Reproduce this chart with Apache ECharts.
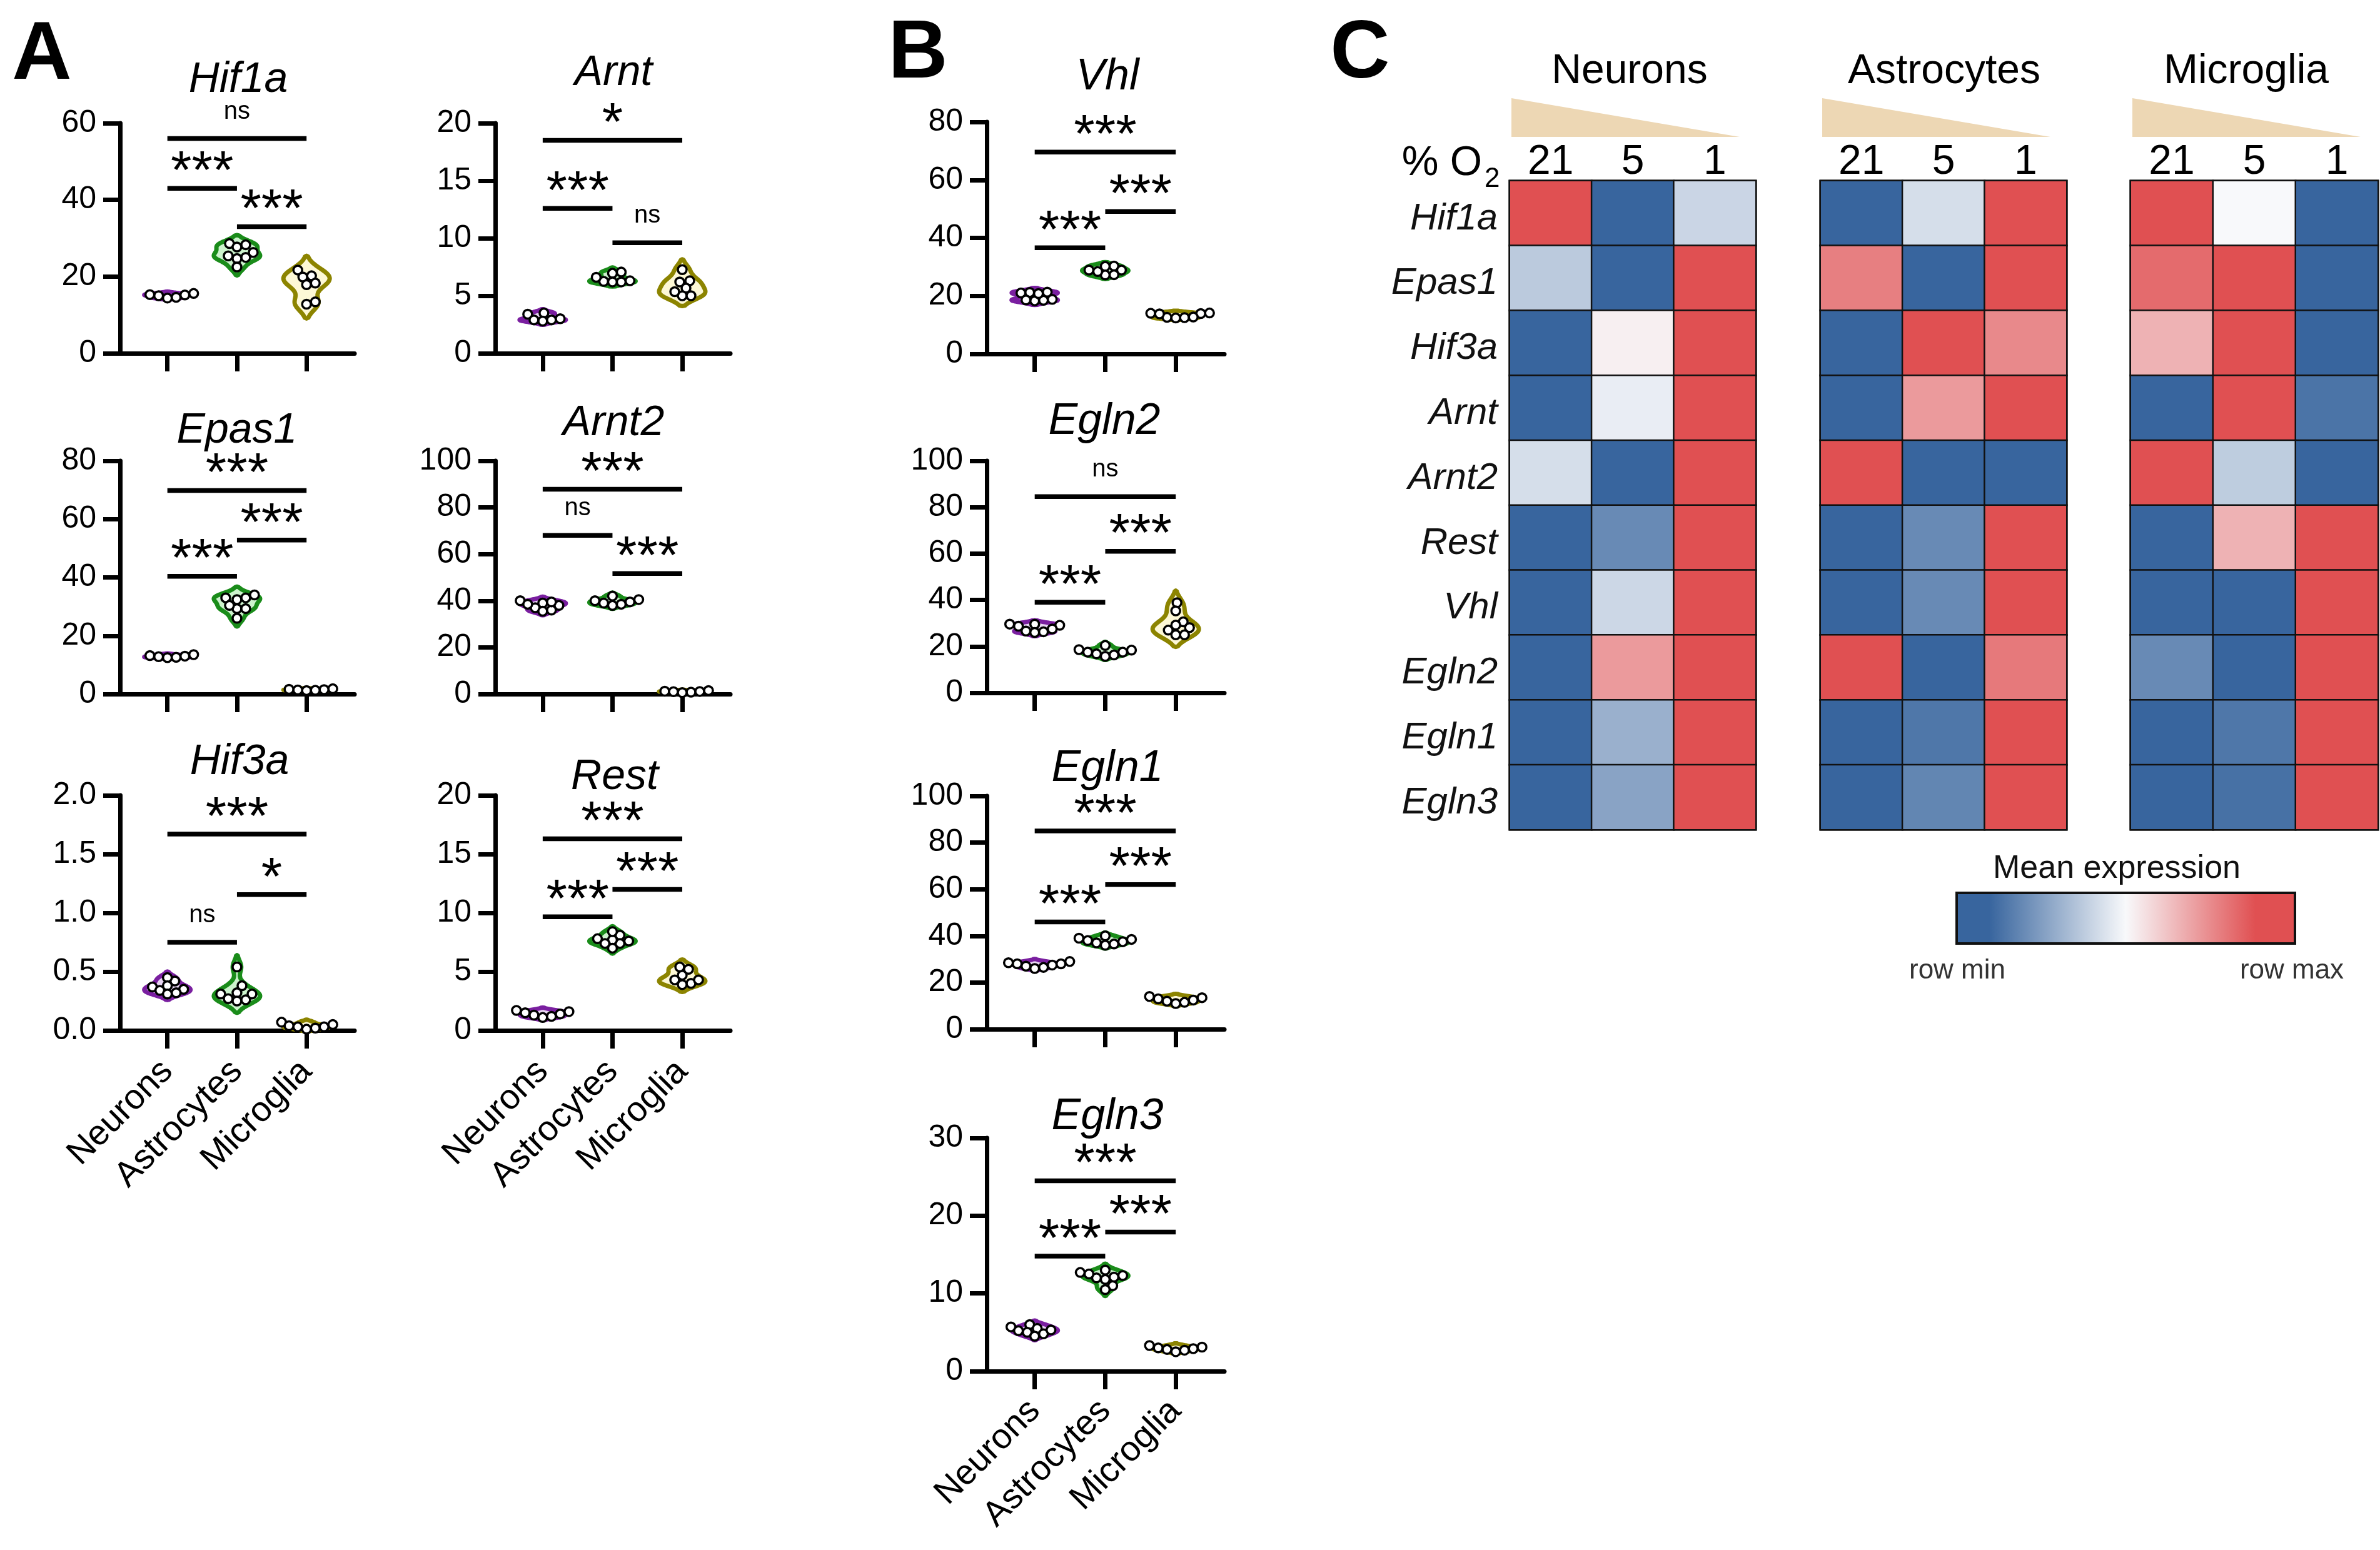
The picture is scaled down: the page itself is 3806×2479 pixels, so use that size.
<!DOCTYPE html>
<html><head><meta charset="utf-8">
<script src="https://cdn.jsdelivr.net/npm/echarts@6/dist/echarts.min.js"></script>
<style>html,body{margin:0;padding:0;background:#fff}#c{width:3806px;height:2479px}</style>
</head><body><div id="c"></div>
<script>
// ---------- DATA ----------
const cellTypes = ['Neurons', 'Astrocytes', 'Microglia'];

const hif1aN = [15.6, 15.2, 14.6, 15.0, 14.4, 15.3];
const hif1aA = [28.3, 28.6, 27.7, 26.3, 25.0, 25.4, 24.7, 22.5];
const hif1aM = [21.7, 19.9, 20.2, 17.9, 18.3, 12.8, 13.4];
const hif1aSig = [[1, 2, 43, '***'], [2, 3, 33, '***'], [1, 3, 56, 'ns']];

const arntN = [3.5, 3.4, 2.8, 2.9, 2.9, 3.0];
const arntA = [6.95, 7.06, 6.25, 6.3, 6.2, 6.2, 6.6];
const arntM = [7.27, 6.2, 6.3, 5.67, 5.0, 5.0, 5.35];
const arntSig = [[1, 2, 12.6, '***'], [2, 3, 9.6, 'ns'], [1, 3, 18.5, '*']];

const epas1N = [13.5, 12.5, 13.0, 12.8, 13.2, 12.6];
const epas1A = [33, 33, 34, 32.4, 29.3, 30.4, 29.3, 26];
const epas1M = [1.8, 1.5, 1.2, 1.6, 1.3, 1.4];
const epas1Sig = [[1, 2, 40.4, '***'], [2, 3, 52.8, '***'], [1, 3, 69.8, '***']];

const arnt2N = [40, 39, 38, 37, 36, 39.5, 38.5, 35.5];
const arnt2A = [42, 40.5, 40, 38, 38.5, 39, 39.5];
const arnt2M = [1.2, 0.8, 1.0, 1.5, 0.6, 1.1];
const arnt2Sig = [[1, 2, 68, 'ns'], [2, 3, 51.7, '***'], [1, 3, 87.8, '***']];

const hif3aN = [0.42, 0.45, 0.38, 0.37, 0.35, 0.32, 0.34, 0.31];
const hif3aA = [0.54, 0.38, 0.32, 0.31, 0.31, 0.26, 0.27, 0.25];
const hif3aM = [0.07, 0.05, 0.03, 0.02, 0.04, 0.03, 0.01];
const hif3aSig = [[1, 2, 0.75, 'ns'], [2, 3, 1.155, '*'], [1, 3, 1.67, '***']];

const restN = [1.7, 1.5, 1.3, 1.1, 1.2, 1.4, 1.6];
const restA = [8.1, 7.8, 7.4, 7.7, 7.0, 8.4, 7.6, 7.4];
const restM = [4.7, 4.3, 5.2, 5.4, 4.0, 4.3, 3.9];
const restSig = [[1, 2, 9.67, '***'], [2, 3, 12.0, '***'], [1, 3, 16.3, '***']];

const vhlN = [21.2, 18.5, 21.0, 18.8, 21.3, 18.3, 20.8, 18.6];
const vhlA = [30.3, 28.9, 27.3, 28.9, 30.2, 27.2, 28.4];
const vhlM = [14.0, 12.5, 14.1, 12.6, 13.8, 12.4, 13.9, 12.7];
const vhlSig = [[1, 2, 36.6, '***'], [2, 3, 49.1, '***'], [1, 3, 69.6, '***']];

const egln2N = [26.6, 29.6, 28.7, 29.6, 26.0, 29.1, 26.3, 27.5];
const egln2A = [16.8, 18.6, 17.5, 18.4, 20.4, 15.7, 17.5, 16.3];
const egln2M = [38.8, 35.3, 30.6, 29.2, 28.1, 25, 25, 27];
const egln2Sig = [[1, 2, 39, '***'], [2, 3, 61, '***'], [1, 3, 84.6, 'ns']];

const egln1N = [29, 28, 27, 26.5, 28.5, 27.5, 26, 28];
const egln1A = [40, 38, 37, 36, 39, 37.5, 36.5, 38.5];
const egln1M = [14, 13, 12, 11.5, 12.5, 11, 13.5];
const egln1Sig = [[1, 2, 46, '***'], [2, 3, 62, '***'], [1, 3, 85, '***']];

const egln3N = [6, 5.5, 5, 4.8, 5.3, 5.7, 4.5, 5.2];
const egln3A = [13, 12.7, 12.3, 12, 11.8, 12.5, 11, 10.5, 12.1];
const egln3M = [3.3, 3, 2.8, 2.7, 2.5, 3.1, 2.9];
const egln3Sig = [[1, 2, 14.8, '***'], [2, 3, 17.9, '***'], [1, 3, 24.5, '***']];

const plotGenes = ['Hif1a', 'Arnt', 'Epas1', 'Arnt2', 'Hif3a', 'Rest', 'Vhl', 'Egln2', 'Egln1', 'Egln3'];
const yMaxes    = [60, 20, 80, 100, 2.0, 20, 80, 100, 100, 30];
const yIntervals = [20, 5, 20, 20, 0.5, 5, 20, 20, 20, 10];

const heatGenes = ['Hif1a', 'Epas1', 'Hif3a', 'Arnt', 'Arnt2', 'Rest', 'Vhl', 'Egln2', 'Egln1', 'Egln3'];
const o2Levels = ['21', '5', '1'];
const heatNeurons = [[1, 0, 0.38], [0.34, 0, 1], [0, 0.53, 1], [0, 0.46, 1], [0.41, 0, 1], [0, 0.125, 1], [0, 0.385, 1], [0, 0.78, 1], [0, 0.255, 1], [0, 0.21, 1]];
const heatAstro   = [[0, 0.41, 1], [0.86, 0, 1], [0, 1, 0.83], [0, 0.78, 1], [1, 0, 0], [0, 0.125, 1], [0, 0.125, 1], [1, 0, 0.88], [0, 0.06, 1], [0, 0.11, 1]];
const heatMicro   = [[1, 0.5, 0], [0.92, 1, 0], [0.71, 1, 0], [0, 1, 0.05], [1, 0.35, 0], [0, 0.71, 1], [0, 0, 1], [0.125, 0, 1], [0, 0.06, 1], [0, 0.04, 1]];

// ---------- STYLE / LAYOUT ----------
const ARIAL = "'Liberation Sans', Arial, Helvetica, sans-serif";
const groupStroke = ['#7A1FA0', '#1A8C1A', '#8C8400'];
const groupFill = ['#E8D6F2', '#CDF3CD', '#FDF8D6'];
const HALF = 37, R = 7;

const plotValues = [
  [hif1aN, hif1aA, hif1aM], [arntN, arntA, arntM], [epas1N, epas1A, epas1M], [arnt2N, arnt2A, arnt2M],
  [hif3aN, hif3aA, hif3aM], [restN, restA, restM], [vhlN, vhlA, vhlM], [egln2N, egln2A, egln2M],
  [egln1N, egln1A, egln1M], [egln3N, egln3A, egln3M]
];
const plotSigs = [hif1aSig, arntSig, epas1Sig, arnt2Sig, hif3aSig, restSig, vhlSig, egln2Sig, egln1Sig, egln3Sig];

const layout = [
  {l: 192, t: 197, w: 375, h: 368, bottom: false, title: [381, 128]},
  {l: 792, t: 197, w: 376, h: 368, bottom: false, title: [981, 117]},
  {l: 192, t: 737, w: 375, h: 373, bottom: false, title: [379, 689]},
  {l: 792, t: 737, w: 376, h: 373, bottom: false, title: [981, 677]},
  {l: 192, t: 1272, w: 375, h: 376, bottom: true, title: [383, 1219]},
  {l: 792, t: 1272, w: 376, h: 376, bottom: true, title: [983, 1243]},
  {l: 1578, t: 195, w: 380, h: 371, bottom: false, title: [1771, 124]},
  {l: 1578, t: 737, w: 380, h: 371, bottom: false, title: [1766, 675]},
  {l: 1578, t: 1273, w: 380, h: 373, bottom: false, title: [1771, 1230]},
  {l: 1578, t: 1820, w: 380, h: 373, bottom: true, title: [1771, 1787]}
];
const heatLayout = [{l: 2414, w: 394}, {l: 2911, w: 394}, {l: 3407, w: 396}];
const heatTop = 289, heatH = 1038;

// ---------- HELPERS ----------
function swarm(pts, r) {
  const idx = pts.map((p, i) => i).sort((a, b) => pts[b][1] - pts[a][1]);
  const placed = [], out = [];
  const step = 2, minD = 2 * r - 1;
  for (const i of idx) {
    const [x0, y0] = pts[i];
    let pos = [x0, y0];
    for (let k = 0; k < 200; k++) {
      const off = (k % 2 === 1 ? 1 : -1) * Math.ceil(k / 2) * step;
      const x = x0 + off;
      let ok = true;
      for (const q of placed) {
        const dx = q[0] - x, dy = q[1] - y0;
        if (dx * dx + dy * dy < minD * minD) { ok = false; break; }
      }
      if (ok) { pos = [x, y0]; break; }
    }
    placed.push(pos);
    out[i] = pos;
  }
  return out;
}

function violinSeries(gi, vals, xi) {
  return {
    type: 'custom', xAxisIndex: gi, yAxisIndex: gi, z: 2, silent: true, clip: false,
    data: vals.map(v => [xi, v]),
    renderItem(params, api) {
      if (params.dataIndex !== 0) return null;
      const n = vals.length;
      const mean = vals.reduce((a, b) => a + b, 0) / n;
      const sd = Math.sqrt(vals.reduce((a, b) => a + (b - mean) * (b - mean), 0) / (n - 1));
      const bw = 0.8 * 1.06 * sd * Math.pow(n, -0.2);
      const lo = Math.min(...vals) - 1.9 * bw, hi = Math.max(...vals) + 1.9 * bw;
      const steps = 80, ys = [], ds = [];
      for (let k = 0; k <= steps; k++) {
        const y = lo + (hi - lo) * k / steps;
        let d = 0;
        for (const v of vals) { const z = (y - v) / bw; d += Math.exp(-0.5 * z * z); }
        ys.push(y); ds.push(d);
      }
      const dmax = Math.max(...ds);
      const right = [], left = [];
      for (let k = 0; k <= steps; k++) {
        const p = api.coord([xi, ys[k]]);
        const w = (k === 0 || k === steps) ? 0 : HALF * ds[k] / dmax;
        right.push([p[0] + w, p[1]]);
        left.unshift([p[0] - w, p[1]]);
      }
      return {
        type: 'polygon', shape: {points: right.concat(left)},
        style: {fill: groupFill[xi - 1], stroke: groupStroke[xi - 1], lineWidth: 7, lineJoin: 'round'}
      };
    }
  };
}

function pointSeries(gi, vals, xi) {
  return {
    type: 'custom', xAxisIndex: gi, yAxisIndex: gi, z: 4, silent: true, clip: false,
    data: vals.map(v => [xi, v]),
    renderItem(params, api) {
      const pos = swarm(vals.map(v => api.coord([xi, v])), R);
      const p = pos[params.dataIndex];
      return {type: 'circle', shape: {cx: p[0], cy: p[1], r: R}, style: {fill: '#fff', stroke: '#000', lineWidth: 3.5}};
    }
  };
}

function sigSeries(gi, sig) {
  return {
    type: 'custom', xAxisIndex: gi, yAxisIndex: gi, z: 3, silent: true, clip: false,
    data: sig.map(s => [s[0], s[1], s[2]]),
    renderItem(params, api) {
      const s = sig[params.dataIndex];
      const a = api.coord([s[0], s[2]]), b = api.coord([s[1], s[2]]);
      const isNs = s[3] === 'ns';
      const fontSize = isNs ? 40 : 86;
      const dy = isNs ? 43 : 24;
      return {
        type: 'group', children: [
          {type: 'line', shape: {x1: a[0], y1: a[1], x2: b[0], y2: b[1]}, style: {stroke: '#000', lineWidth: 7.5}},
          {type: 'text', style: {text: s[3], x: (a[0] + b[0]) / 2, y: a[1] - dy, align: 'center', verticalAlign: 'middle',
            fill: '#000', fontSize, fontFamily: ARIAL}}
        ]
      };
    }
  };
}

// ---------- BUILD OPTION ----------
const grid = [], xAxis = [], yAxis = [], series = [], graphic = [];

layout.forEach((L, gi) => {
  const isB = gi >= 6;
  grid.push({left: L.l, top: L.t, width: L.w, height: L.h});
  xAxis.push({
    type: 'value', gridIndex: gi, min: 0.32, max: 3.69,
    axisLine: {show: true, lineStyle: {color: '#000', width: 7}},
    axisTick: {show: true, customValues: [1, 2, 3], length: 29, lineStyle: {color: '#000', width: 7}},
    axisLabel: {
      show: L.bottom, customValues: [1, 2, 3], rotate: 45, margin: isB ? 55 : 57,
      fontSize: 56, fontFamily: ARIAL, color: '#000',
      formatter: v => cellTypes[Math.round(v) - 1]
    },
    splitLine: {show: false}
  });
  yAxis.push({
    type: 'value', gridIndex: gi, min: 0, max: yMaxes[gi], interval: yIntervals[gi],
    axisLine: {show: true, lineStyle: {color: '#000', width: 7}},
    axisTick: {show: true, length: 27, lineStyle: {color: '#000', width: 7}},
    axisLabel: {
      fontSize: 50, fontFamily: ARIAL, color: '#000', margin: 38,
      formatter: v => (yIntervals[gi] < 1 ? v.toFixed(1) : String(v))
    },
    splitLine: {show: false}
  });
  plotValues[gi].forEach((vals, k) => series.push(violinSeries(gi, vals, k + 1)));
  series.push(sigSeries(gi, plotSigs[gi]));
  plotValues[gi].forEach((vals, k) => series.push(pointSeries(gi, vals, k + 1)));
  graphic.push({
    type: 'text', x: L.title[0], y: L.title[1], silent: true,
    style: {text: plotGenes[gi], align: 'center', verticalAlign: 'middle', fontStyle: 'italic',
      fontSize: isB ? 70 : 68, fontFamily: ARIAL, fill: '#000'}
  });
});

const heatSets = [heatNeurons, heatAstro, heatMicro];
const heatSeriesIdx = [];
heatLayout.forEach((H, k) => {
  const gi = 10 + k;
  grid.push({left: H.l, top: heatTop, width: H.w, height: heatH, show: true, borderColor: '#111', borderWidth: 3, backgroundColor: 'transparent'});
  xAxis.push({
    type: 'category', gridIndex: gi, data: o2Levels, position: 'top',
    axisLine: {show: false}, axisTick: {show: false},
    axisLabel: {fontSize: 66, fontFamily: ARIAL, color: '#000', margin: -4},
    splitLine: {show: false}
  });
  yAxis.push({
    type: 'category', gridIndex: gi, data: heatGenes, inverse: true,
    axisLine: {show: false}, axisTick: {show: false},
    axisLabel: {show: k === 0, fontSize: 60, fontStyle: 'italic', fontFamily: ARIAL, color: '#111', margin: 19,
      verticalAlign: 'top', lineHeight: 18},
    splitLine: {show: false}
  });
  const data = [];
  heatSets[k].forEach((row, r) => row.forEach((v, c) => data.push([c, r, v])));
  heatSeriesIdx.push(series.length);
  series.push({
    type: 'heatmap', xAxisIndex: gi, yAxisIndex: gi, data, silent: true,
    itemStyle: {borderColor: '#111', borderWidth: 2.5}
  });
});

// heatmap decorations
const heatHeaders = [['Neurons', 2606], ['Astrocytes', 3109], ['Microglia', 3592]];
heatHeaders.forEach(h => graphic.push({
  type: 'text', x: h[1], y: 115, silent: true,
  style: {text: h[0], align: 'center', verticalAlign: 'middle', fontSize: 66, fontFamily: ARIAL, fill: '#000'}
}));
heatLayout.forEach(H => graphic.push({
  type: 'polygon', silent: true,
  shape: {points: [[H.l + 3, 157], [H.l + 3, 219], [H.l + 368, 219]]},
  style: {fill: '#EDD7B4'}
}));
graphic.push({type: 'text', x: 2370, y: 262, silent: true,
  style: {text: '% O', align: 'right', verticalAlign: 'middle', fontSize: 66, fontFamily: ARIAL, fill: '#000'}});
graphic.push({type: 'text', x: 2374, y: 287, silent: true,
  style: {text: '2', align: 'left', verticalAlign: 'middle', fontSize: 44, fontFamily: ARIAL, fill: '#000'}});

// legend
graphic.push({type: 'text', x: 3385, y: 1390, silent: true,
  style: {text: 'Mean expression', align: 'center', verticalAlign: 'middle', fontSize: 52, fontFamily: ARIAL, fill: '#111'}});
graphic.push({type: 'rect', silent: true, shape: {x: 3129, y: 1428, width: 541, height: 81},
  style: {
    fill: {type: 'linear', x: 0, y: 0, x2: 1, y2: 0, colorStops: [
      {offset: 0, color: '#38659E'}, {offset: 0.1, color: '#38659E'},
      {offset: 0.5, color: '#F8F9FB'}, {offset: 0.88, color: '#E05052'}, {offset: 1, color: '#E05052'}]},
    stroke: '#111', lineWidth: 4
  }});
graphic.push({type: 'text', x: 3130, y: 1553, silent: true,
  style: {text: 'row min', align: 'center', verticalAlign: 'middle', fontSize: 44, fontFamily: ARIAL, fill: '#333'}});
graphic.push({type: 'text', x: 3665, y: 1553, silent: true,
  style: {text: 'row max', align: 'center', verticalAlign: 'middle', fontSize: 44, fontFamily: ARIAL, fill: '#333'}});

// panel letters
[['A', 67, 90], ['B', 1468, 88], ['C', 2175, 88]].forEach(p => graphic.push({
  type: 'text', x: p[1], y: p[2], silent: true,
  style: {text: p[0], align: 'center', verticalAlign: 'middle', fontSize: 132, fontWeight: 'bold', fontFamily: ARIAL, fill: '#000'}
}));

const option = {
  backgroundColor: '#fff',
  animation: false,
  grid, xAxis, yAxis, series, graphic,
  visualMap: {
    type: 'continuous', show: false, min: 0, max: 1, dimension: 2, seriesIndex: heatSeriesIdx,
    inRange: {color: ['#38659E', '#F8F9FB', '#E05052']}
  }
};

const chart = echarts.init(document.getElementById('c'), null, {renderer: 'canvas', devicePixelRatio: 1});
chart.setOption(option);
</script>
</body></html>
